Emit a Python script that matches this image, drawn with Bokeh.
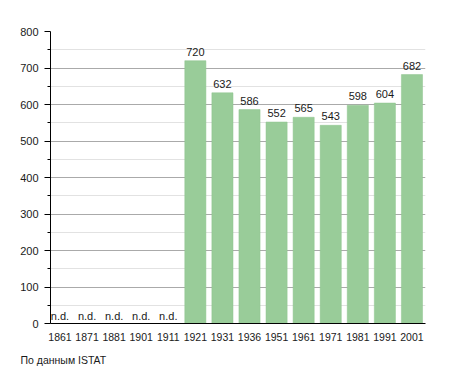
from bokeh.plotting import figure
from bokeh.models import ColumnDataSource, Range1d, FixedTicker, LabelSet, Title
from bokeh.core.properties import value
from bokeh.embed import file_html
from bokeh.resources import INLINE

years = ["1861", "1871", "1881", "1901", "1911", "1921", "1931", "1936",
         "1951", "1961", "1971", "1981", "1991", "2001"]
population = [None, None, None, None, None, 720, 632, 586, 552, 565, 543, 598, 604, 682]
y_ticks = [0, 100, 200, 300, 400, 500, 600, 700, 800]
source_note = "По данным ISTAT"

FONT = "Liberation Sans"

idx = list(range(len(years)))
bar_x = [i for i, v in zip(idx, population) if v is not None]
bar_top = [v for v in population if v is not None]
bar_src = ColumnDataSource(dict(x=bar_x, top=bar_top,
                                lab=[str(v) for v in bar_top]))
nd_x = [i for i, v in zip(idx, population) if v is None]
nd_src = ColumnDataSource(dict(x=nd_x, y=[0] * len(nd_x),
                               lab=["n.d."] * len(nd_x)))

p = figure(width=450, height=365, frame_width=375, frame_height=292,
           min_border_left=50, min_border_top=31, min_border_right=25,
           min_border_bottom=42,
           x_range=Range1d(-0.35, 13.5), y_range=Range1d(0, 800),
           output_backend="svg", toolbar_location=None, tools="")
p.outline_line_color = None
p.background_fill_color = "white"

p.vbar(x="x", top="top", width=0.78, bottom=0, source=bar_src,
       fill_color="#99cc99", line_color="#8fc48f", line_width=0.5)

p.add_layout(LabelSet(x="x", y="top", text="lab", source=bar_src,
                      text_align="center", text_baseline="alphabetic", y_offset=5,
                      text_font=value(FONT), text_font_size="11px",
                      text_color="#1a1a1a"))
p.add_layout(LabelSet(x="x", y="y", text="lab", source=nd_src,
                      text_align="center", text_baseline="alphabetic", y_offset=4,
                      text_font=value(FONT), text_font_size="11px",
                      text_color="#1a1a1a"))

# axes
p.xaxis.ticker = FixedTicker(ticks=idx)
p.xaxis.major_label_overrides = {i: y for i, y in zip(idx, years)}
p.xaxis.major_tick_line_color = None
p.xaxis.minor_tick_line_color = None
p.xaxis.axis_line_color = "black"
p.xaxis.major_label_standoff = 3
p.xaxis.major_label_text_font = FONT
p.xaxis.major_label_text_font_size = "10.5px"
p.xaxis.major_label_text_color = "#1a1a1a"

p.yaxis.ticker = FixedTicker(ticks=y_ticks, minor_ticks=list(range(50, 800, 100)))
p.yaxis.axis_line_color = "black"
p.yaxis.major_tick_in = 0
p.yaxis.major_tick_out = 6
p.yaxis.minor_tick_in = 0
p.yaxis.minor_tick_out = 3
p.yaxis.major_tick_line_color = "black"
p.yaxis.minor_tick_line_color = "black"
p.yaxis.major_label_standoff = 6
p.yaxis.major_label_text_font = FONT
p.yaxis.major_label_text_font_size = "11px"
p.yaxis.major_label_text_color = "#1a1a1a"

p.xgrid.grid_line_color = None
p.ygrid.grid_line_color = "#aaaaaa"
p.ygrid.minor_grid_line_color = "#e2e2e2"

p.add_layout(Title(text=source_note, align="left", offset=-30, standoff=16,
                   text_font=FONT, text_font_style="normal",
                   text_font_size="10.5px", text_color="#1a1a1a"), "below")

open("out.html", "w").write(file_html(p, INLINE))
